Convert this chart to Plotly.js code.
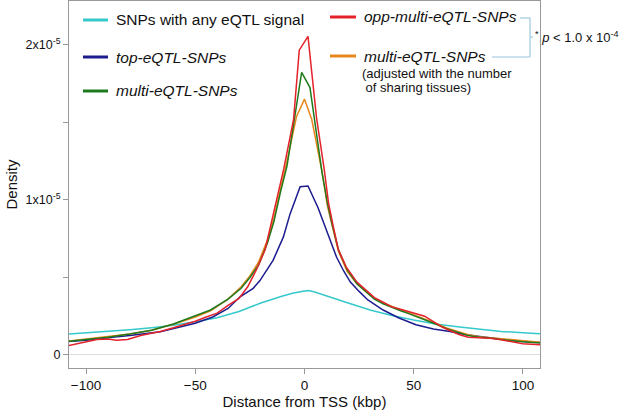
<!DOCTYPE html>
<html>
<head>
<meta charset="utf-8">
<script src="https://cdn.plot.ly/plotly-3.0.1.min.js"></script>
<style>html,body{margin:0;padding:0;background:#fff;}#chart{width:620px;height:416px;}</style>
</head>
<body>
<div id="chart"></div>
<script>
// Density values in units of 1e-5
const anyX = [-108,-100,-90,-80,-70,-60,-50,-40,-30,-20,-10,-5,0,2,5,10,20,30,40,50,60,70,80,90,100,108];
const anyY = [0.135,0.142,0.152,0.163,0.176,0.192,0.214,0.24,0.28,0.335,0.38,0.40,0.413,0.415,0.405,0.38,0.335,0.29,0.255,0.225,0.2,0.182,0.165,0.152,0.144,0.137];

const topX = [-108,-100,-88,-80,-66,-58,-50,-42,-35,-29.5,-23.5,-20.4,-17,-14.4,-9.7,-6.6,-2,1.6,6.2,10.1,14.7,18,21,25,29,36,43,51,59,66.6,74,82,90,97,108];
const topY = [0.086,0.095,0.114,0.125,0.15,0.175,0.205,0.245,0.30,0.375,0.43,0.48,0.55,0.61,0.76,0.91,1.085,1.09,0.95,0.80,0.63,0.54,0.47,0.41,0.355,0.29,0.24,0.195,0.167,0.152,0.13,0.116,0.10,0.09,0.08];

const multiX = [-108,-100,-90,-80,-70,-60,-50,-43,-35,-29,-25,-21,-17,-14,-11,-8,-4.3,-1.3,2.5,4.8,8,10.5,12.5,15.5,19.5,24,28,32,36,40,44,48,52,56,60,65,70,75,80,85,90,95,100,108];
const multiY = [0.088,0.10,0.115,0.135,0.16,0.20,0.25,0.29,0.36,0.43,0.50,0.58,0.72,0.86,1.05,1.22,1.55,1.822,1.725,1.50,1.18,0.98,0.85,0.68,0.55,0.46,0.41,0.36,0.33,0.305,0.285,0.265,0.245,0.22,0.20,0.17,0.145,0.125,0.115,0.11,0.10,0.092,0.085,0.077];

const adjX = [-108,-100,-90,-80,-70,-60,-50,-43,-35,-29,-25,-21,-17,-14,-11,-8,-3.6,0,3.3,7.9,10.5,12.5,15.5,19.5,24,28,32,36,40,44,48,52,56,60,65,70,75,80,85,90,95,100,108];
const adjY = [0.09,0.102,0.117,0.135,0.16,0.198,0.245,0.285,0.36,0.44,0.51,0.60,0.74,0.88,1.07,1.25,1.54,1.65,1.52,1.19,0.96,0.84,0.67,0.54,0.46,0.41,0.365,0.335,0.31,0.29,0.27,0.25,0.225,0.205,0.175,0.15,0.13,0.118,0.112,0.105,0.097,0.09,0.082];

const oppX = [-108,-100,-95,-90,-86,-81,-75,-70,-66,-60,-55,-50,-45,-40,-35,-30,-26,-22,-18,-15,-12,-9.5,-5,-2.4,1.6,5.5,9,11,13,15.5,19,21,24,28,32,36,40,44,48,52,55,59,63,67,71,75,80,85,90,95,100,108];
const oppY = [0.06,0.085,0.10,0.103,0.095,0.10,0.125,0.14,0.152,0.175,0.195,0.218,0.245,0.27,0.32,0.365,0.44,0.55,0.68,0.86,1.05,1.2,1.52,1.966,2.055,1.53,1.2,0.98,0.84,0.68,0.57,0.53,0.47,0.42,0.37,0.34,0.31,0.295,0.28,0.265,0.25,0.215,0.18,0.155,0.13,0.115,0.11,0.108,0.098,0.085,0.072,0.066];

const xTicks = [-100,-50,0,50,100];
const yTicks = [0,1,2];
const yTickText = ['0','1x10<sup>-5</sup>','2x10<sup>-5</sup>'];
const yMinorTicks = [0.5,1.5];

const C = {any:'#35c9cc', top:'#1c1c8f', multi:'#1e7a1e', opp:'#e3222a', adj:'#e8861c'};

function tr(x,y,c){return {x:x,y:y,type:'scatter',mode:'lines',line:{color:c,width:1.5},hoverinfo:'skip'};}
const data = [tr(anyX,anyY,C.any), tr(topX,topY,C.top), tr(adjX,adjY,C.adj), tr(multiX,multiY,C.multi), tr(oppX,oppY,C.opp)];

// pixel helpers for paper coords (plot area 69..540 x, 1..368 y)
const px = v => (v-69)/471, py = v => (368-v)/367;
const F = 'Liberation Sans, Arial, sans-serif';

const legendRows = [
  {x0:83,x1:108,y:20,c:C.any,t:'SNPs with any eQTL signal'},
  {x0:83,x1:108,y:57,c:C.top,t:'<i>top-eQTL-SNPs</i>'},
  {x0:83,x1:108,y:91,c:C.multi,t:'<i>multi-eQTL-SNPs</i>'},
  {x0:330,x1:356,y:17,c:C.opp,t:'<i>opp-multi-eQTL-SNPs</i>'},
  {x0:330,x1:356,y:56,c:C.adj,t:'<i>multi-eQTL-SNPs</i>'}
];
const shapes = [], annotations = [];
legendRows.forEach(r=>{
  shapes.push({type:'line',xref:'paper',yref:'paper',x0:px(r.x0),x1:px(r.x1),y0:py(r.y),y1:py(r.y),line:{color:r.c,width:3}});
  annotations.push({xref:'paper',yref:'paper',x:px(r.x1+6),y:py(r.y),xanchor:'left',yanchor:'middle',showarrow:false,text:r.t,font:{family:F,size:15.5,color:'#111'}});
});
annotations.push({xref:'paper',yref:'paper',x:px(360),y:py(73),xanchor:'left',yanchor:'middle',showarrow:false,text:'(adjusted with the number',font:{family:F,size:13,color:'#111'}});
annotations.push({xref:'paper',yref:'paper',x:px(360),y:py(88),xanchor:'left',yanchor:'middle',showarrow:false,text:' of sharing tissues)',font:{family:F,size:13,color:'#111'}});
const bl = {color:'#9cc6de',width:1.2};
shapes.push({type:'line',xref:'paper',yref:'paper',x0:px(520),x1:px(530),y0:py(18),y1:py(18),line:bl});
shapes.push({type:'line',xref:'paper',yref:'paper',x0:px(530),x1:px(530),y0:py(18),y1:py(57),line:bl});
shapes.push({type:'line',xref:'paper',yref:'paper',x0:px(492),x1:px(530),y0:py(57),y1:py(57),line:bl});
shapes.push({type:'line',xref:'paper',yref:'paper',x0:px(530),x1:px(533),y0:py(37),y1:py(37),line:bl});
annotations.push({xref:'paper',yref:'paper',x:px(533),y:py(37),xanchor:'left',yanchor:'middle',showarrow:false,text:'<sup>*</sup> <i>p</i> &lt; 1.0 x 10<sup>-4</sup>',font:{family:F,size:13,color:'#111'}});

const layout = {
  width:620,height:416,
  margin:{l:69,r:80,t:1,b:48},
  paper_bgcolor:'#fff',plot_bgcolor:'#fff',
  showlegend:false,
  font:{family:F,color:'#111'},
  xaxis:{range:[-107.8,107.8],tickvals:xTicks,ticks:'outside',ticklen:5,tickcolor:'#999',showgrid:false,zeroline:false,
         showline:true,linecolor:'#999',linewidth:1,mirror:true,tickfont:{size:13.5,family:F},
         title:{text:'Distance from TSS (kbp)',font:{size:15,family:F},standoff:4}},
  yaxis:{range:[-0.084,2.283],tickvals:yTicks,ticktext:yTickText,ticks:'outside',ticklen:5,tickcolor:'#999',showgrid:false,
         minor:{tickvals:yMinorTicks,ticks:'outside',ticklen:5,tickcolor:'#999',showgrid:false},
         zeroline:true,zerolinecolor:'#dddddd',zerolinewidth:1,
         showline:true,linecolor:'#999',linewidth:1,mirror:true,tickfont:{size:12.5,family:F},
         title:{text:'Density',font:{size:15,family:F},standoff:4}},
  shapes:shapes,annotations:annotations
};
Plotly.newPlot('chart',data,layout,{displayModeBar:false,staticPlot:true});
</script>
</body>
</html>
